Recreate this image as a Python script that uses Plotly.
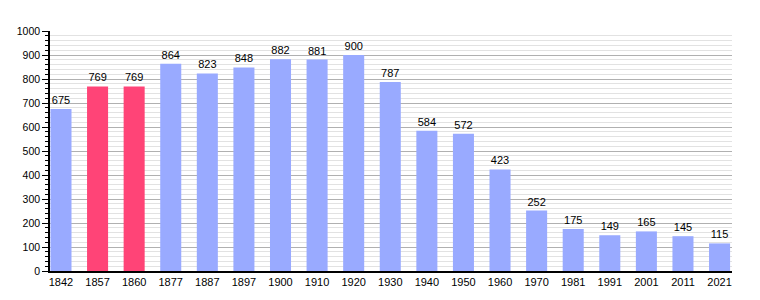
import plotly.graph_objects as go

years = ["1842", "1857", "1860", "1877", "1887", "1897", "1900", "1910", "1920", "1930",
         "1940", "1950", "1960", "1970", "1981", "1991", "2001", "2011", "2021"]
population = [675, 769, 769, 864, 823, 848, 882, 881, 900, 787,
              584, 572, 423, 252, 175, 149, 165, 145, 115]
highlight = ["1857", "1860"]

BLUE = "#99aaff"
PINK = "#ff4477"
colors = [PINK if y in highlight else BLUE for y in years]
xs = list(range(len(years)))

fig = go.Figure()
fig.add_trace(go.Bar(
    x=xs, y=population, marker=dict(color=colors, line=dict(width=0)),
    width=0.575, text=[str(v) for v in population], textposition="outside",
    textfont=dict(family="Liberation Sans, Arial, sans-serif", size=11, color="#000"),
    cliponaxis=False, hoverinfo="skip",
))

fig.update_layout(
    width=760, height=300,
    margin=dict(l=50, r=28, t=31, b=29),
    paper_bgcolor="white", plot_bgcolor="white",
    showlegend=False,
    font=dict(family="Liberation Sans, Arial, sans-serif", size=11, color="#000"),
)
fig.update_xaxes(
    range=[-0.30, 18.34], tickmode="array", tickvals=xs, ticktext=years,
    showgrid=False, showline=True, linecolor="#000", linewidth=1.5,
    ticks="", zeroline=False, tickfont=dict(size=11),
)
fig.update_yaxes(
    range=[0, 1000], dtick=100, tick0=0, showgrid=True, gridcolor="#b0b0b0", gridwidth=1,
    showline=True, linecolor="#000", linewidth=1.5, ticks="outside", ticklen=6,
    tickcolor="#000", zeroline=False, tickfont=dict(size=10.5),
    minor=dict(dtick=20, showgrid=True, gridcolor="#e2e2e2", gridwidth=1,
               ticks="outside", ticklen=3, tickcolor="#000"),
)

fig.write_html("out.html")
